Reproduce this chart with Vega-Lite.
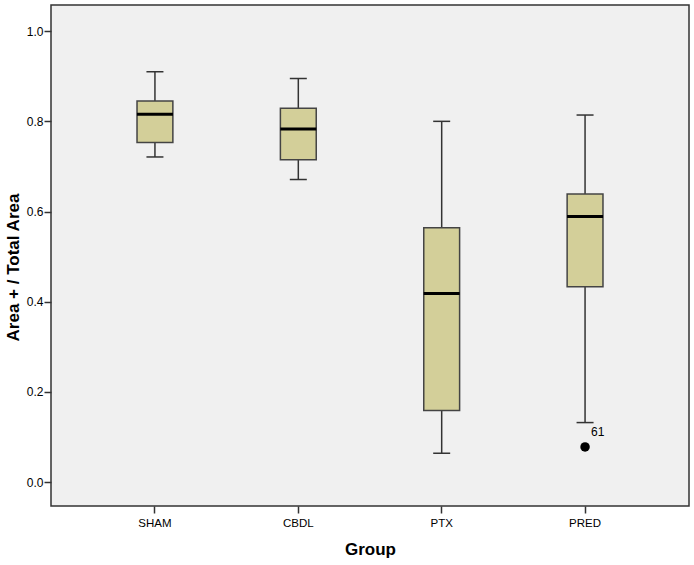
{
  "$schema": "https://vega.github.io/schema/vega-lite/v6.json",
  "autosize": {"type": "none"},
  "padding": {"left": 51, "top": 5, "right": 5, "bottom": 59},
  "width": 638,
  "height": 501,
  "background": "white",
  "config": {
    "font": "Liberation Sans",
    "view": {"fill": "#f0f0f0", "stroke": "#333333", "strokeWidth": 1.5}
  },
  "datasets": {
    "boxes": [
      {"Group": "SHAM", "min": 0.721, "q1": 0.753, "median": 0.816, "q3": 0.845, "max": 0.910},
      {"Group": "CBDL", "min": 0.671, "q1": 0.715, "median": 0.783, "q3": 0.829, "max": 0.895},
      {"Group": "PTX", "min": 0.064, "q1": 0.159, "median": 0.418, "q3": 0.564, "max": 0.800},
      {"Group": "PRED", "min": 0.132, "q1": 0.433, "median": 0.589, "q3": 0.639, "max": 0.814}
    ],
    "outliers": [
      {"Group": "PRED", "value": 0.078, "case": "61"}
    ]
  },
  "encoding": {
    "x": {
      "field": "Group", "type": "nominal",
      "sort": ["SHAM", "CBDL", "PTX", "PRED"],
      "scale": {"paddingInner": 0.75, "paddingOuter": 0.6},
      "axis": {
        "title": "Group", "titleFontSize": 17, "titleFontWeight": "bold", "titleColor": "#000000",
        "titlePadding": 13,
        "labelAngle": 0, "labelFontSize": 11.5, "labelColor": "#000000", "labelPadding": 4,
        "domain": false, "tickColor": "#333333", "tickSize": 7, "tickWidth": 1.5
      }
    }
  },
  "layer": [
    {
      "data": {"name": "boxes"},
      "mark": {"type": "rule", "stroke": "#333333", "strokeWidth": 1.5},
      "encoding": {
        "y": {
          "field": "min", "type": "quantitative",
          "scale": {"domain": [-0.053, 1.058], "nice": false, "zero": false},
          "axis": {
            "title": "Area + / Total Area", "titleFontSize": 17, "titleFontWeight": "bold", "titleColor": "#000000",
            "titleX": -33, "titleY": 262, "titleBaseline": "alphabetic",
            "values": [0, 0.2, 0.4, 0.6, 0.8, 1.0], "format": ".1f",
            "labelFontSize": 12, "labelColor": "#000000", "labelPadding": 1,
            "domain": false, "grid": false, "tickColor": "#333333", "tickSize": 7, "tickWidth": 1.5
          }
        },
        "y2": {"field": "max"}
      }
    },
    {
      "data": {"name": "boxes"},
      "mark": {"type": "tick", "color": "#333333", "opacity": 1, "size": 17, "thickness": 1.5},
      "encoding": {"y": {"field": "min", "type": "quantitative"}}
    },
    {
      "data": {"name": "boxes"},
      "mark": {"type": "tick", "color": "#333333", "opacity": 1, "size": 17, "thickness": 1.5},
      "encoding": {"y": {"field": "max", "type": "quantitative"}}
    },
    {
      "data": {"name": "boxes"},
      "mark": {"type": "bar", "fill": "#d3cf99", "stroke": "#444444", "strokeWidth": 1.5},
      "encoding": {
        "y": {"field": "q1", "type": "quantitative"},
        "y2": {"field": "q3"}
      }
    },
    {
      "data": {"name": "boxes"},
      "mark": {"type": "tick", "color": "#000000", "opacity": 1, "size": 36, "thickness": 3},
      "encoding": {"y": {"field": "median", "type": "quantitative"}}
    },
    {
      "data": {"name": "outliers"},
      "mark": {"type": "point", "filled": true, "color": "#000000", "opacity": 1, "size": 90},
      "encoding": {"y": {"field": "value", "type": "quantitative"}}
    },
    {
      "data": {"name": "outliers"},
      "mark": {"type": "text", "align": "left", "baseline": "bottom", "dx": 6, "dy": -8, "fontSize": 12, "color": "#000000"},
      "encoding": {
        "y": {"field": "value", "type": "quantitative"},
        "text": {"field": "case"}
      }
    }
  ]
}
